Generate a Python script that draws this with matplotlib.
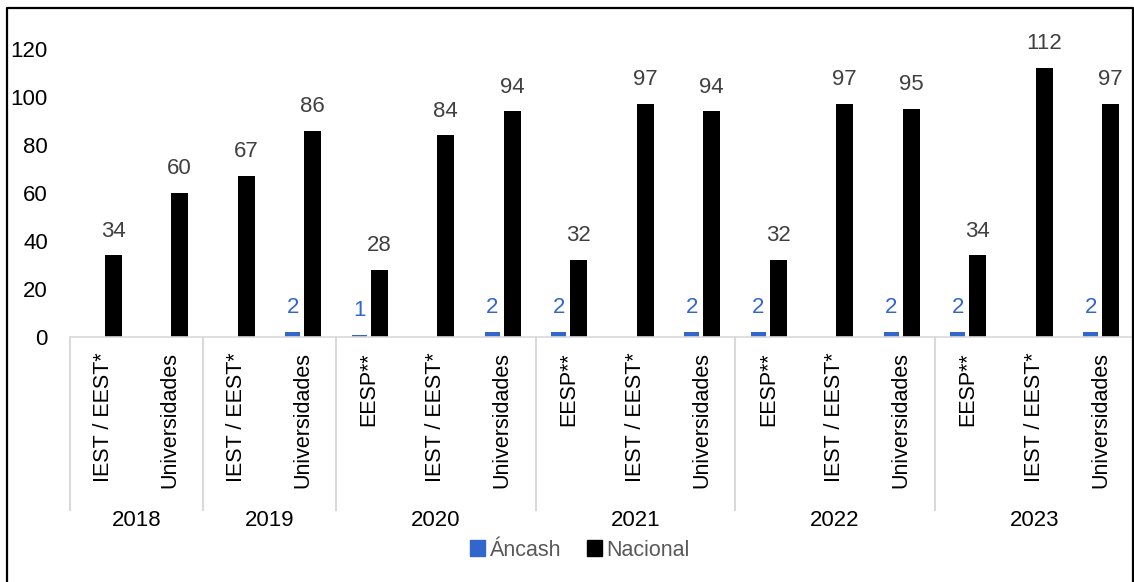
import numpy as np
import matplotlib
matplotlib.use('Agg')
import matplotlib.pyplot as plt
from matplotlib.lines import Line2D
from matplotlib.patches import Patch

plt.rcParams['font.family'] = ['Liberation Sans', 'DejaVu Sans']

years = ['2018', '2019', '2020', '2021', '2022', '2023']
categorias = ['IEST / EEST*', 'Universidades',
              'IEST / EEST*', 'Universidades',
              'EESP**', 'IEST / EEST*', 'Universidades',
              'EESP**', 'IEST / EEST*', 'Universidades',
              'EESP**', 'IEST / EEST*', 'Universidades',
              'EESP**', 'IEST / EEST*', 'Universidades']
grupo = [0, 0, 1, 1, 2, 2, 2, 3, 3, 3, 4, 4, 4, 5, 5, 5]
ancash = [None, None, None, 2, 1, None, 2, 2, None, 2, 2, None, 2, 2, None, 2]
nacional = [34, 60, 67, 86, 28, 84, 94, 32, 97, 94, 32, 97, 95, 34, 112, 97]

azul = '#3366CC'
W, H = 1134, 582
fig = plt.figure(figsize=(W / 100, H / 100), dpi=100)
ax = fig.add_axes([70 / W, 1 - 337 / H, 1 - 70 / W, (337 - 25) / H])

x = np.arange(len(categorias))
anc = np.array([np.nan if v is None else v for v in ancash], dtype=float)
b1 = ax.bar(x - 0.15, anc, width=0.22, color=azul)
b2 = ax.bar(x + 0.15, nacional, width=0.25, color='black')

for xi, v in zip(x, anc):
    if not np.isnan(v):
        ax.annotate(f'{int(v)}', (xi - 0.15, v), xytext=(0, 10), textcoords='offset points',
                    ha='center', va='bottom', fontsize=16, color=azul)
for xi, v in zip(x, nacional):
    ax.annotate(f'{v}', (xi + 0.15, v), xytext=(0, 10), textcoords='offset points',
                ha='center', va='bottom', fontsize=16, color='#404040')

ax.set_xlim(-0.5, len(categorias) - 0.5)
ax.set_ylim(0, 312 / 2.4)
ax.set_yticks([0, 20, 40, 60, 80, 100, 120])
ax.tick_params(axis='y', length=0, labelsize=16, pad=16)
ax.set_xticks([])
for s in ['top', 'right', 'left']:
    ax.spines[s].set_visible(False)
ax.spines['bottom'].set_color('#d9d9d9')
ax.spines['bottom'].set_linewidth(1.2)

trans = ax.get_xaxis_transform()
ax_h = 312
for xi, c in zip(x, categorias):
    ax.text(xi, -15 / ax_h, c, transform=trans, rotation=90, ha='center', va='top',
            fontsize=15.5, color='black')

# separadores y etiquetas de año
limites = [-0.5]
for g in range(len(years)):
    idx = [i for i, gg in enumerate(grupo) if gg == g]
    limites.append(idx[-1] + 0.5)
    ax.text(np.mean(idx), -183 / ax_h, years[g], transform=trans, ha='center', va='center',
            fontsize=16, color='black')
for b in limites:
    ax.plot([b, b], [0, -173 / ax_h], transform=trans, color='#d9d9d9', lw=1.5, clip_on=False)

handles = [Patch(color=azul), Patch(color='black')]
fig.legend(handles, ['Áncash', 'Nacional'], loc='center', bbox_to_anchor=(580 / W, 1 - 550 / H),
           ncol=2, frameon=False, fontsize=15.5, handlelength=0.7, handleheight=0.7,
           handletextpad=0.2, columnspacing=1.2, labelcolor='#595959')

# borde exterior
fig.add_artist(Line2D([7 / W, 7 / W, 1133 / W, 1133 / W], [0, 1 - 8 / H, 1 - 8 / H, 0],
                      transform=fig.transFigure, color='black', lw=1.6))

fig.savefig('out.png', dpi=100)
